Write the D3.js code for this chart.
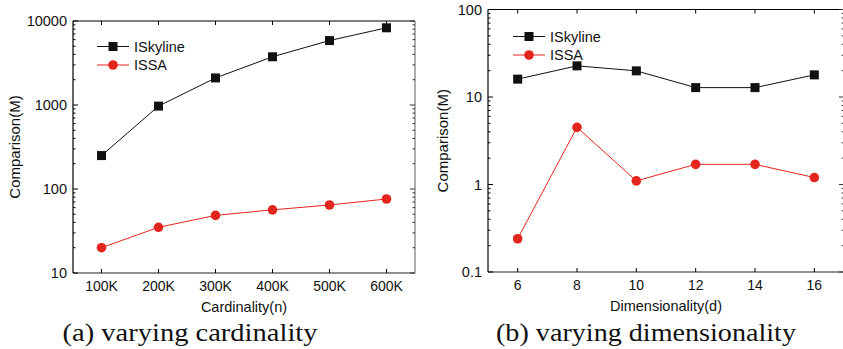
<!DOCTYPE html>
<html>
<head>
<meta charset="utf-8">
<script src="https://cdn.jsdelivr.net/npm/d3@7"></script>
<style>
  body { margin: 0; background: #fff; }
  svg text { font-family: "Liberation Sans", Arial, sans-serif; }
</style>
</head>
<body>
<svg id="fig" width="843" height="349"></svg>
<script>
// (a) varying cardinality
const cardLabels = ["100K", "200K", "300K", "400K", "500K", "600K"]
const cardValues = [100, 200, 300, 400, 500, 600]
const cardISkyline = [250, 970, 2100, 3750, 5850, 8300]
const cardISSA = [20, 35, 48.5, 56.5, 64.5, 76]

// (b) varying dimensionality
const dimValues = [6, 8, 10, 12, 14, 16]
const dimISkyline = [16, 22.7, 19.9, 12.8, 12.8, 17.9]
const dimISSA = [0.24, 4.5, 1.1, 1.7, 1.7, 1.2]

const seriesNames = ["ISkyline", "ISSA"]
const seriesColours = ["#111111", "#e3261d"]

const svg = d3.select("#fig")

function drawPanel(p) {
    const g = svg.append("g")
    const x = d3.scaleLinear().domain(p.xDomain).range([p.left, p.right])
    const y = d3.scaleLog().domain(p.yDomain).range([p.bottom, p.top])

    // frame
    g.append("line").attr("x1", p.left).attr("x2", p.right).attr("y1", p.top).attr("y2", p.top)
        .attr("stroke", "#000").attr("stroke-width", 1.2)
    g.append("line").attr("x1", p.left).attr("x2", p.left).attr("y1", p.top).attr("y2", p.bottom)
        .attr("stroke", "#000").attr("stroke-width", 1.2)
    g.append("line").attr("x1", p.left).attr("x2", p.right).attr("y1", p.bottom).attr("y2", p.bottom)
        .attr("stroke", "#222").attr("stroke-width", 1.2)
    g.append("line").attr("x1", p.right).attr("x2", p.right).attr("y1", p.top).attr("y2", p.bottom)
        .attr("stroke", "#777").attr("stroke-width", 1.2)

    // x ticks (inward, top and bottom)
    p.xTicks.forEach(function (v, i) {
        g.append("line").attr("x1", x(v)).attr("x2", x(v)).attr("y1", p.bottom).attr("y2", p.bottom - 4)
            .attr("stroke", "#000")
        g.append("line").attr("x1", x(v)).attr("x2", x(v)).attr("y1", p.top).attr("y2", p.top + 4)
            .attr("stroke", "#000")
        g.append("text").attr("x", x(v)).attr("y", p.bottom + 18)
            .attr("text-anchor", "middle").attr("font-size", 14).attr("fill", "#111")
            .text(p.xLabels[i])
    })

    // y ticks: majors with labels, minors 2..9
    const [lo, hi] = p.yDomain
    for (let e = Math.round(Math.log10(lo)); e <= Math.round(Math.log10(hi)); e++) {
        const v = Math.pow(10, e)
        g.append("line").attr("x1", p.left).attr("x2", p.left + 5).attr("y1", y(v)).attr("y2", y(v))
            .attr("stroke", "#000")
        g.append("line").attr("x1", p.right).attr("x2", p.right - 5).attr("y1", y(v)).attr("y2", y(v))
            .attr("stroke", "#333")
        g.append("text").attr("x", p.left - 6).attr("y", y(v) + 5)
            .attr("text-anchor", "end").attr("font-size", 14.5).attr("fill", "#111")
            .text(p.yFormat(v))
        if (v < hi) {
            for (let m = 2; m <= 9; m++) {
                const mv = m * v
                g.append("line").attr("x1", p.left).attr("x2", p.left + 2.5).attr("y1", y(mv)).attr("y2", y(mv))
                    .attr("stroke", "#000")
                g.append("line").attr("x1", p.right).attr("x2", p.right - 2.5).attr("y1", y(mv)).attr("y2", y(mv))
                    .attr("stroke", "#333")
            }
        }
    }

    // axis titles
    g.append("text").attr("x", (p.left + p.right) / 2).attr("y", p.bottom + 39)
        .attr("text-anchor", "middle").attr("font-size", 14.5).attr("fill", "#111")
        .text(p.xTitle)
    g.append("text")
        .attr("transform", "translate(" + p.yTitleX + "," + ((p.top + p.bottom) / 2) + ") rotate(-90)")
        .attr("text-anchor", "middle").attr("font-size", 15).attr("fill", "#111")
        .text("Comparison(M)")

    // caption
    g.append("text").attr("x", p.captionX).attr("y", 341)
        .attr("text-anchor", "middle").attr("font-size", 25).attr("fill", "#111")
        .attr("textLength", p.captionW).attr("lengthAdjust", "spacingAndGlyphs")
        .style("font-family", "'Liberation Serif', 'DejaVu Serif', serif")
        .text(p.caption)

    // series
    const line = d3.line().x(function (d) { return x(d[0]) }).y(function (d) { return y(d[1]) })
    p.series.forEach(function (vals, s) {
        const pts = p.xValues.map(function (v, i) { return [v, vals[i]] })
        g.append("path").datum(pts).attr("d", line)
            .attr("fill", "none").attr("stroke", seriesColours[s]).attr("stroke-width", 1)
        drawMarkers(g, pts.map(function (d) { return [x(d[0]), y(d[1])] }), s)
    })

    // legend
    seriesNames.forEach(function (name, s) {
        const ly = p.legendY + s * 18.5
        g.append("line").attr("x1", p.legendX).attr("x2", p.legendX + 32).attr("y1", ly).attr("y2", ly)
            .attr("stroke", seriesColours[s]).attr("stroke-width", 1)
        drawMarkers(g, [[p.legendX + 16, ly]], s)
        g.append("text").attr("x", p.legendX + 37).attr("y", ly + 5)
            .attr("font-size", 14.5).attr("fill", "#111").text(name)
    })
}

function drawMarkers(g, pts, s) {
    if (s === 0) {
        g.selectAll(null).data(pts).enter().append("rect")
            .attr("x", function (d) { return d[0] - 4.5 })
            .attr("y", function (d) { return d[1] - 4.5 })
            .attr("width", 9).attr("height", 9)
            .attr("fill", seriesColours[0])
    } else {
        g.selectAll(null).data(pts).enter().append("circle")
            .attr("cx", function (d) { return d[0] })
            .attr("cy", function (d) { return d[1] })
            .attr("r", 4.8)
            .attr("fill", seriesColours[1])
    }
}

drawPanel({
    left: 73, right: 415, top: 21, bottom: 273,
    xDomain: [50, 650], yDomain: [10, 10000],
    xValues: cardValues, xTicks: cardValues, xLabels: cardLabels,
    yFormat: d3.format("d"),
    series: [cardISkyline, cardISSA],
    xTitle: "Cardinality(n)", yTitleX: 20,
    caption: "(a) varying cardinality", captionX: 190, captionW: 255,
    legendX: 97, legendY: 46.5
})

drawPanel({
    left: 488, right: 844, top: 9.5, bottom: 272,
    xDomain: [5, 17], yDomain: [0.1, 100],
    xValues: dimValues, xTicks: dimValues, xLabels: dimValues.map(String),
    yFormat: function (v) { return v < 1 ? "0.1" : String(v) },
    series: [dimISkyline, dimISSA],
    xTitle: "Dimensionality(d)", yTitleX: 448,
    caption: "(b) varying dimensionality", captionX: 646, captionW: 300,
    legendX: 513, legendY: 36.5
})
</script>
</body>
</html>
